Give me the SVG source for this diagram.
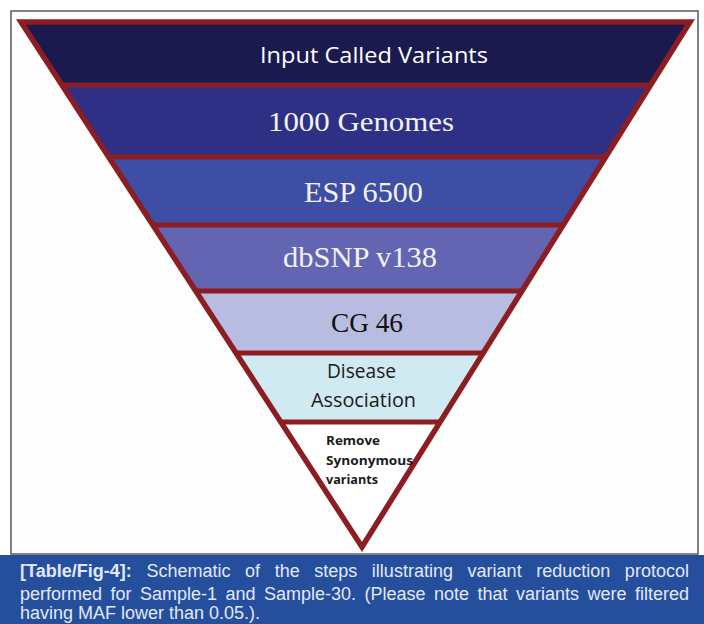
<svg xmlns="http://www.w3.org/2000/svg" width="704" height="624" viewBox="0 0 704 624">
<style>
.sep{stroke:#8c1d22;stroke-width:5;}
.outline{fill:none;stroke:#8c1d22;stroke-width:5.5;stroke-linejoin:miter;}
.sans{font-family:"Open Sans","Liberation Sans",sans-serif;}
.serif{font-family:"Liberation Serif","DejaVu Serif",serif;}
.cap{font-family:"Liberation Sans",Arial,sans-serif;font-size:18px;fill:#e2e9f6;}
</style>
<defs>
<clipPath id="tri"><polygon points="21,22 690,22 362,547"/></clipPath>
</defs>
<rect x="0" y="0" width="704" height="624" fill="#ffffff"/>
<rect x="11" y="11" width="687" height="543" fill="#fdfdfd" stroke="#5a5a5a" stroke-width="1.5"/>
<g clip-path="url(#tri)">
<g id="band1"><rect x="0" y="0" width="704" height="85" fill="#1b1a4e"/></g>
<g id="band2"><rect x="0" y="85" width="704" height="72" fill="#2e3086"/></g>
<g id="band3"><rect x="0" y="157" width="704" height="68" fill="#3e4ea4"/></g>
<g id="band4"><rect x="0" y="225" width="704" height="66" fill="#6365b3"/></g>
<g id="band5"><rect x="0" y="291" width="704" height="62" fill="#b8bce0"/></g>
<g id="band6"><rect x="0" y="353" width="704" height="69" fill="#cfeaf1"/></g>
<g id="band7"><rect x="0" y="422" width="704" height="130" fill="#ffffff"/></g>
<g id="separators">
<line class="sep" x1="0" y1="85" x2="704" y2="85"/>
<line class="sep" x1="0" y1="157" x2="704" y2="157"/>
<line class="sep" x1="0" y1="225" x2="704" y2="225"/>
<line class="sep" x1="0" y1="291" x2="704" y2="291"/>
<line class="sep" x1="0" y1="353" x2="704" y2="353"/>
<line class="sep" x1="0" y1="422" x2="704" y2="422"/>
</g>
</g>
<polygon class="outline" points="21,22 690,22 362,547"/>
<g id="label1"><text class="sans" x="260" y="63" font-size="22" fill="#ffffff" textLength="228" lengthAdjust="spacingAndGlyphs">Input Called Variants</text></g>
<g id="label2"><text class="serif" x="268" y="131" font-size="28" fill="#f2f2f2" textLength="186" lengthAdjust="spacingAndGlyphs">1000 Genomes</text></g>
<g id="label3"><text class="serif" x="304" y="202" font-size="29" fill="#f2f2f2" textLength="119" lengthAdjust="spacingAndGlyphs">ESP 6500</text></g>
<g id="label4"><text class="serif" x="283" y="267" font-size="29" fill="#f2f2f2" textLength="154" lengthAdjust="spacingAndGlyphs">dbSNP v138</text></g>
<g id="label5"><text class="serif" x="331" y="332" font-size="28" fill="#111111" textLength="72" lengthAdjust="spacingAndGlyphs">CG 46</text></g>
<g id="label6" class="sans" font-size="20" fill="#1a1a1a">
<text x="327" y="378" textLength="69" lengthAdjust="spacingAndGlyphs">Disease</text>
<text x="311" y="407" textLength="105" lengthAdjust="spacingAndGlyphs">Association</text>
</g>
<g id="label7" class="sans" font-size="13" font-weight="bold" fill="#1a1a1a">
<text x="326" y="445" textLength="54" lengthAdjust="spacingAndGlyphs">Remove</text>
<text x="326" y="465" textLength="87" lengthAdjust="spacingAndGlyphs">Synonymous</text>
<text x="326" y="484" textLength="52" lengthAdjust="spacingAndGlyphs">variants</text>
</g>
<g id="caption">
<rect x="0" y="555" width="704" height="69" fill="#254f9c"/>
<text class="cap" x="20" y="577" word-spacing="9.5" textLength="669" lengthAdjust="spacing"><tspan font-weight="bold">[Table/Fig-4]:</tspan> Schematic of the steps illustrating variant reduction protocol</text>
<text class="cap" x="20" y="600" word-spacing="3.5" textLength="669" lengthAdjust="spacing">performed for Sample-1 and Sample-30. (Please note that variants were filtered</text>
<text class="cap" x="20" y="619">having MAF lower than 0.05.).</text>
</g>
</svg>
